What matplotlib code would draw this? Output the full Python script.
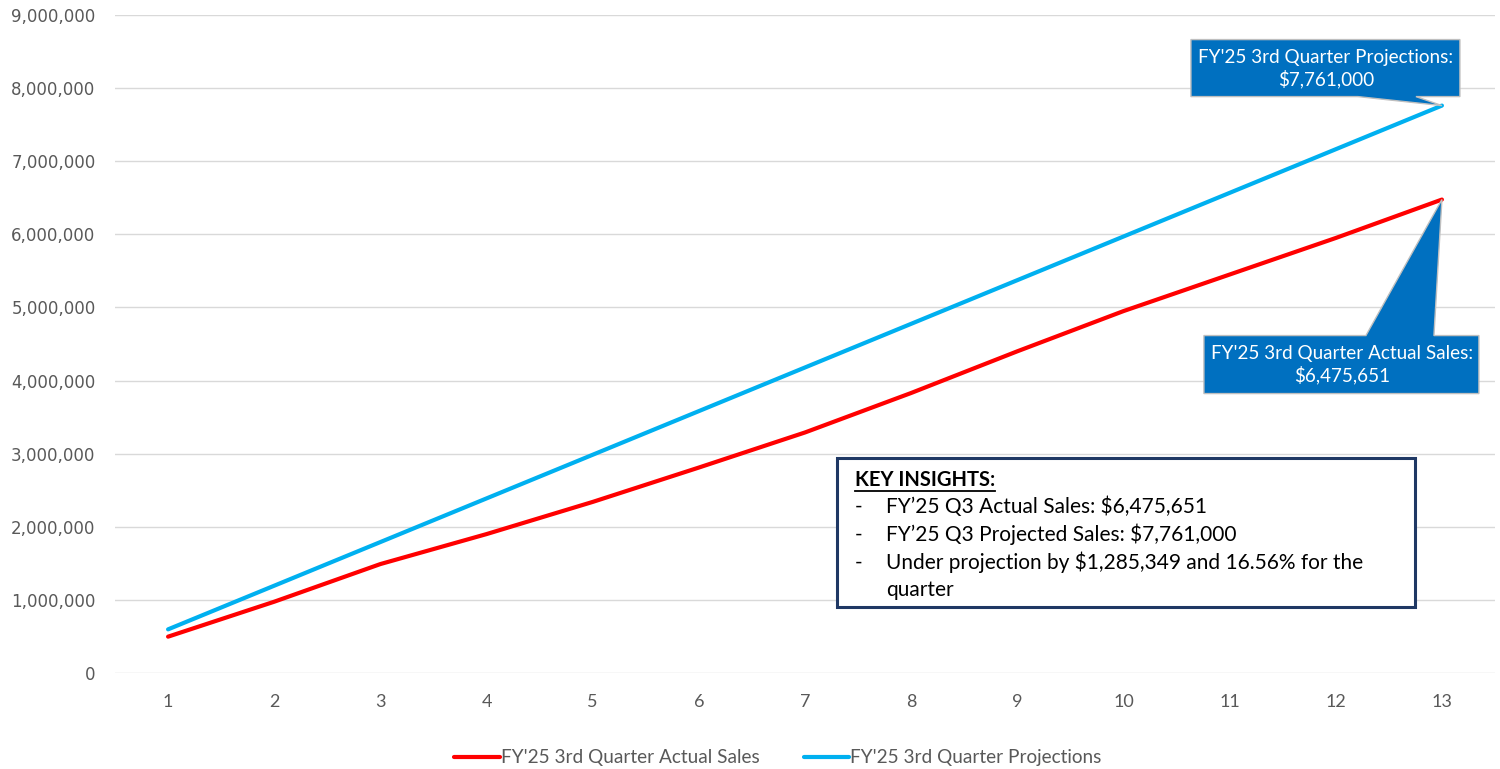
import matplotlib
matplotlib.use("Agg")
import matplotlib.pyplot as plt
from matplotlib.patches import Polygon, Rectangle
from matplotlib.transforms import IdentityTransform
from matplotlib.ticker import FuncFormatter

periods = list(range(1, 14))
actual_sales = [497000, 975000, 1490000, 1900000, 2340000, 2810000, 3290000,
                3830000, 4400000, 4950000, 5450000, 5950000, 6475651]
projections = [597000, 1194000, 1791000, 2388000, 2985000, 3582000, 4179000,
               4776000, 5373000, 5970000, 6567000, 7164000, 7761000]
y_ticks = [0, 1000000, 2000000, 3000000, 4000000, 5000000, 6000000,
           7000000, 8000000, 9000000]

actual_label = "FY'25 3rd Quarter Actual Sales"
proj_label = "FY'25 3rd Quarter Projections"
insights_title = "KEY INSIGHTS:"
insights = ["FY\u201925 Q3 Actual Sales: $6,475,651",
            "FY\u201925 Q3 Projected Sales: $7,761,000",
            "Under projection by $1,285,349 and 16.56% for the",
            "quarter"]

BODY_FONT = "Lato"
GRAY_TXT = "#595959"
CALLOUT_BLUE = "#0070C0"

fig = plt.figure(figsize=(15, 7.69), dpi=100)
ax = fig.add_axes([115 / 1500, 1 - 673 / 769, 1380 / 1500, 658 / 769])

ax.plot(periods, actual_sales, color="#FF0000", lw=3, solid_capstyle="round",
        label=actual_label, zorder=3)
ax.plot(periods, projections, color="#00B0F0", lw=3, solid_capstyle="round",
        label=proj_label, zorder=3)

ax.set_xlim(0.5, 13.5)
ax.set_ylim(0, 9000000)
ax.set_xticks(periods)
ax.set_yticks(y_ticks)
ax.yaxis.set_major_formatter(FuncFormatter(lambda v, p: "{:,.0f}".format(v)))
ax.grid(axis="y", color="#D9D9D9", lw=1)
ax.set_axisbelow(True)
for s in ax.spines.values():
    s.set_visible(False)
ax.tick_params(axis="y", length=0, pad=14, labelsize=12, labelcolor=GRAY_TXT)
ax.tick_params(axis="x", length=0, pad=15, labelsize=13, labelcolor=GRAY_TXT)
for lab in ax.get_xticklabels():
    lab.set_family(BODY_FONT)

leg = fig.legend(loc="center", bbox_to_anchor=(778 / 1500, 1 - 758 / 769),
                 ncol=2, frameon=False, handlelength=2.4, handletextpad=0.05,
                 columnspacing=2.3, prop={"family": BODY_FONT, "size": 13.7})
for t in leg.get_texts():
    t.set_color(GRAY_TXT)


# callouts drawn in pixel offsets from the line end point (image y goes down)
def callout(x, y, shape, text_off, text):
    tx, ty = ax.transData.transform((x, y))
    verts = [(tx + dx, ty - dy) for dx, dy in shape]
    poly = Polygon(verts, closed=True, facecolor=CALLOUT_BLUE,
                   edgecolor="#BFBFBF", lw=1, transform=IdentityTransform(),
                   zorder=5, clip_on=False)
    fig.patches.append(poly)
    fig.text(tx + text_off[0], ty - text_off[1], text, transform=IdentityTransform(),
             ha="center", va="center", color="white", fontsize=13.6,
             family=BODY_FONT, linespacing=1.2, zorder=6)


callout(13, projections[-1],
        [(-251, -66), (18, -66), (18, -9), (-26, -9), (0, 0), (-84, -9), (-251, -9)],
        (-116, -37), "FY'25 3rd Quarter Projections:\n$7,761,000")
callout(13, actual_sales[-1],
        [(-238, 136), (-76, 136), (0, 0), (-8, 136), (37, 136), (37, 194), (-238, 194)],
        (-100, 165), "FY'25 3rd Quarter Actual Sales:\n$6,475,651")

# key insights box
fig.patches.append(Rectangle((837 / 1500, 1 - 607 / 769), 578 / 1500, 149 / 769,
                             transform=fig.transFigure, facecolor="white",
                             edgecolor="#1F3864", lw=2.2, zorder=4))
title = fig.text(855 / 1500, 1 - 480 / 769, insights_title, family=BODY_FONT,
                 fontsize=14.5, weight="bold", va="center", zorder=6)
for i, line in enumerate(insights):
    yy = 1 - (507 + 27.7 * i) / 769
    if i < 3:
        fig.text(855 / 1500, yy, "-", family=BODY_FONT, fontsize=15, va="center", zorder=6)
    fig.text(886 / 1500, yy, line, family=BODY_FONT, fontsize=15, va="center", zorder=6)

fig.canvas.draw()
bb = title.get_window_extent()
fig.lines.append(plt.Line2D([bb.x0, bb.x1], [bb.y0 - 1, bb.y0 - 1], color="black",
                            lw=1.3, transform=IdentityTransform(), zorder=6))

fig.savefig("out.png", dpi=100)
